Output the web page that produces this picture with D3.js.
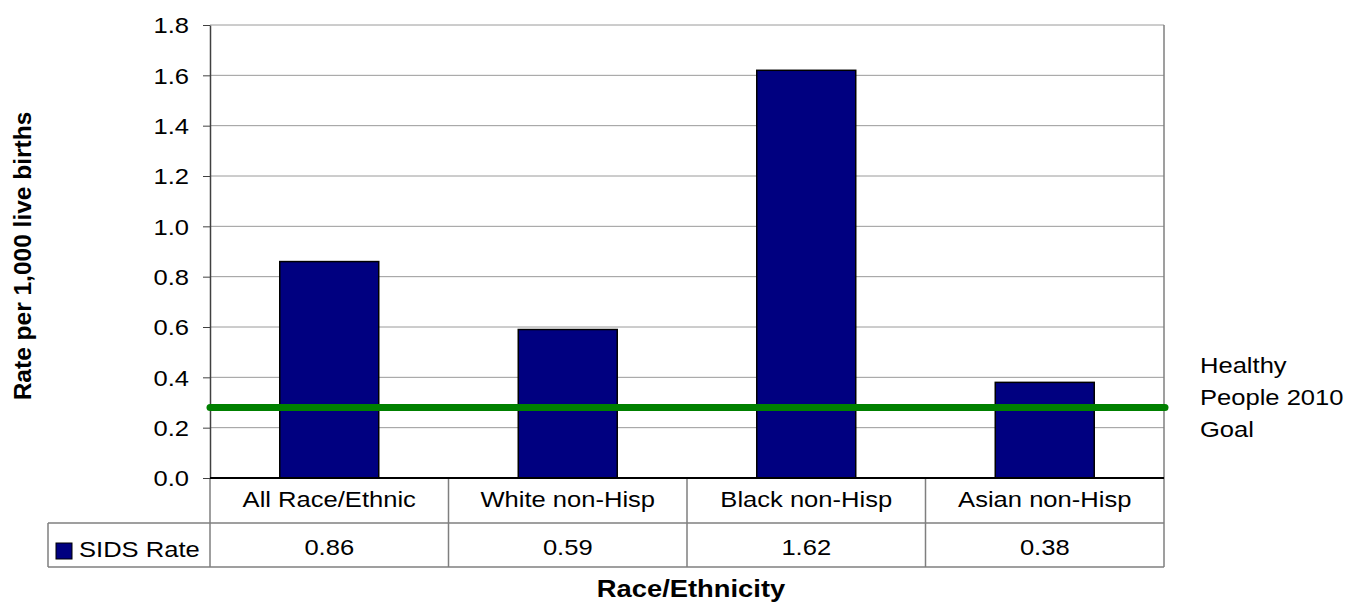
<!DOCTYPE html>
<html>
<head>
<meta charset="utf-8">
<script src="https://cdn.jsdelivr.net/npm/d3@7"></script>
<style>
  html, body { margin: 0; padding: 0; background: #fff; }
  svg { display: block; font-family: "Liberation Sans", Arial, sans-serif; }
</style>
</head>
<body>
<svg id="chart" width="1345" height="602"></svg>
<script>
// SIDS rate per 1,000 live births by race/ethnicity
const categories = ["All Race/Ethnic", "White non-Hisp", "Black non-Hisp", "Asian non-Hisp"];
const sidsRate = [0.86, 0.59, 1.62, 0.38];
const seriesName = "SIDS Rate";
const goalValue = 0.28;
const goalLabel = ["Healthy", "People 2010", "Goal"];
const yTicks = [0, 0.2, 0.4, 0.6, 0.8, 1.0, 1.2, 1.4, 1.6, 1.8];
const yTitle = "Rate per 1,000 live births";
const xTitle = "Race/Ethnicity";

const svg = d3.select("#chart");
const plotLeft = 210, plotRight = 1164, plotTop = 25, zeroY = 478;
const row1 = 523, row2 = 567, tableLeft = 48;
const fs = 21.3, sx = 1.2;   // regular text size and its horizontal stretch

const y = d3.scaleLinear().domain([0, 1.8]).range([zeroY, plotTop]);
const x = d3.scaleBand().domain(categories).range([plotLeft, plotRight]).padding(0);

// gridlines
svg.append("g").selectAll("line").data(yTicks.filter(d => d > 0)).join("line")
  .attr("x1", plotLeft).attr("x2", plotRight)
  .attr("y1", d => y(d)).attr("y2", d => y(d))
  .attr("stroke", "#9a9a9a").attr("stroke-width", 1);

// bars
const barW = x.bandwidth() * 0.415;
svg.append("g").selectAll("rect").data(sidsRate).join("rect")
  .attr("x", (d, i) => x(categories[i]) + (x.bandwidth() - barW) / 2)
  .attr("y", d => y(d))
  .attr("width", barW)
  .attr("height", d => zeroY - y(d))
  .attr("fill", "#000080")
  .attr("stroke", "#000").attr("stroke-width", 1.5);

// table frame
const tbl = svg.append("g").attr("stroke", "#7f7f7f").attr("stroke-width", 1.5).attr("fill", "none");
tbl.append("line").attr("x1", tableLeft).attr("x2", plotRight).attr("y1", row1).attr("y2", row1);
tbl.append("line").attr("x1", tableLeft).attr("x2", plotRight).attr("y1", row2).attr("y2", row2);
tbl.append("line").attr("x1", tableLeft).attr("x2", tableLeft).attr("y1", row1).attr("y2", row2);
tbl.selectAll(".col").data(categories.slice(1)).join("line")
  .attr("x1", d => x(d)).attr("x2", d => x(d)).attr("y1", zeroY).attr("y2", row2);
tbl.append("line").attr("x1", plotRight).attr("x2", plotRight).attr("y1", plotTop).attr("y2", row2);
tbl.append("line").attr("x1", plotLeft).attr("x2", plotLeft).attr("y1", zeroY).attr("y2", row2);

// y axis
const yAxis = svg.append("g").attr("transform", `translate(${plotLeft},0)`)
  .call(d3.axisLeft(y).tickValues(yTicks).tickFormat(d3.format(".1f")).tickSize(7).tickSizeOuter(0));
yAxis.select(".domain").attr("stroke", "#404040").attr("stroke-width", 1.5);
yAxis.selectAll(".tick line").attr("stroke", "#404040").attr("stroke-width", 1);
yAxis.selectAll(".tick text")
  .attr("x", -21 / sx).attr("dy", "0.36em")
  .attr("transform", `scale(${sx},1)`)
  .attr("font-size", fs).attr("font-family", "Liberation Sans, Arial, sans-serif").attr("fill", "#000");

// zero line
svg.append("line").attr("x1", plotLeft).attr("x2", plotRight).attr("y1", zeroY).attr("y2", zeroY)
  .attr("stroke", "#000").attr("stroke-width", 2);

// goal line
svg.append("line").attr("x1", plotLeft).attr("x2", plotRight + 1)
  .attr("y1", y(goalValue)).attr("y2", y(goalValue))
  .attr("stroke", "#008000").attr("stroke-width", 7).attr("stroke-linecap", "round");

function stretchedText(g, tx, ty, str, anchor) {
  return g.append("text")
    .attr("transform", `translate(${tx},${ty}) scale(${sx},1)`)
    .attr("text-anchor", anchor || "middle")
    .attr("font-size", fs).attr("fill", "#000")
    .text(str);
}

// category row and value row
const labels = svg.append("g");
categories.forEach((c, i) => {
  const cx = x(c) + x.bandwidth() / 2;
  stretchedText(labels, cx, 507, c);
  stretchedText(labels, cx, 555, sidsRate[i].toFixed(2));
});

// legend key in the table
svg.append("rect").attr("x", 56).attr("y", 543).attr("width", 16).attr("height", 16)
  .attr("fill", "#000080").attr("stroke", "#000").attr("stroke-width", 1);
stretchedText(labels, 79, 557, seriesName, "start");

// goal label
goalLabel.forEach((t, i) => stretchedText(labels, 1200, 373 + i * 32, t, "start"));

// axis titles
svg.append("text")
  .attr("transform", `translate(31,256) rotate(-90)`)
  .attr("text-anchor", "middle").attr("font-weight", "bold").attr("font-size", 24.5)
  .text(yTitle);
svg.append("text")
  .attr("transform", `translate(691,597) scale(1.14,1)`)
  .attr("text-anchor", "middle").attr("font-weight", "bold").attr("font-size", 24)
  .text(xTitle);
</script>
</body>
</html>
